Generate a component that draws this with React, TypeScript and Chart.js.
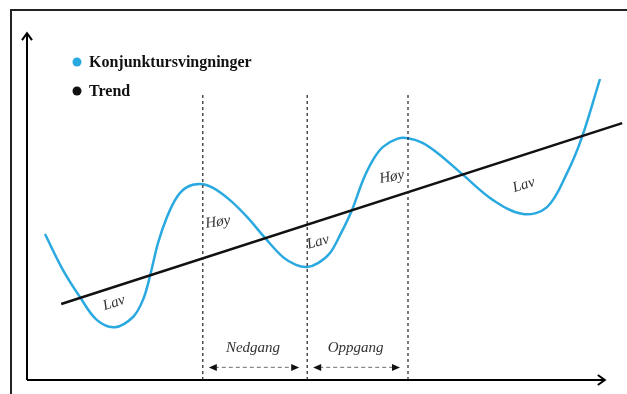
import React, { useEffect, useRef } from "react";
import { Chart, registerables } from "chart.js";

Chart.register(...registerables);

// Business cycle around a rising trend (time on x, activity on y, 0-100 units)
const cycleX = [3.0, 6.0, 8.83, 11.67, 14.67, 17.67, 19.33, 20.5, 21.83, 23.33, 25.0, 26.67, 28.83, 31.0, 33.83, 36.67, 39.67, 42.67, 44.83, 46.67, 48.5, 50.5, 52.17, 54.17, 56.0, 57.67, 59.33, 61.67, 63.5, 66.0, 68.83, 72.67, 77.67, 82.67, 86.67, 90.0, 92.5, 95.5];
const cycleY = [41.7, 31.4, 23.7, 17.1, 15.1, 18.0, 22.9, 29.7, 39.1, 46.6, 52.3, 55.1, 56.0, 54.9, 51.4, 46.6, 40.6, 35.1, 32.9, 32.3, 33.4, 36.3, 41.4, 48.6, 57.1, 62.9, 66.6, 68.9, 69.1, 67.7, 64.3, 58.6, 51.4, 47.4, 49.4, 59.1, 69.4, 86.0];

const trendX = [5.7, 99.2];
const trendY = [21.7, 73.4];

// Turning points marked with dashed verticals
const phaseX = [29.3, 46.7, 63.5];
const phaseTop = 81.4;

const seriesLabels = ["Konjunktursvingninger", "Trend"];
const seriesColors = ["#2aa9e0", "#111111"];

// Peak/trough annotations: text, x, y, rotation (deg)
const pointTexts = ["Lav", "Høy", "Lav", "Høy", "Lav"];
const pointTextX = [14.5, 31.8, 48.5, 60.8, 82.8];
const pointTextY = [22.0, 45.1, 39.4, 58.0, 55.7];
const pointTextAngle = [-18, -8, -15, -10, -18];

// Phase names between the turning points
const phaseNames = ["Nedgang", "Oppgang"];

const xAxisEnd = 96.3;
const yAxisEnd = 99.1;

const toPoints = (xs: number[], ys: number[]) => xs.map((x, i) => ({ x, y: ys[i] }));

const overlay = {
  id: "overlay",
  beforeDatasetsDraw(chart: any) {
    const { ctx, scales } = chart;
    const sx = scales.x;
    const sy = scales.y;
    ctx.save();
    // outer frame (top and left edges)
    ctx.strokeStyle = "#222";
    ctx.lineWidth = 2;
    ctx.beginPath();
    ctx.moveTo(627, 10);
    ctx.lineTo(11, 10);
    ctx.lineTo(11, 394);
    ctx.stroke();

    // axes with open arrow heads
    const ox = sx.getPixelForValue(0);
    const oy = sy.getPixelForValue(0);
    const xe = sx.getPixelForValue(xAxisEnd);
    const ye = sy.getPixelForValue(yAxisEnd);
    ctx.strokeStyle = "#000";
    ctx.lineWidth = 2;
    ctx.beginPath();
    ctx.moveTo(ox, oy);
    ctx.lineTo(xe, oy);
    ctx.moveTo(ox, oy);
    ctx.lineTo(ox, ye);
    ctx.stroke();
    ctx.beginPath();
    ctx.moveTo(xe - 7, oy - 5);
    ctx.lineTo(xe, oy);
    ctx.lineTo(xe - 7, oy + 5);
    ctx.moveTo(ox - 5, ye + 7);
    ctx.lineTo(ox, ye);
    ctx.lineTo(ox + 5, ye + 7);
    ctx.stroke();
    ctx.restore();
  },
  afterDatasetsDraw(chart: any) {
    const { ctx, scales } = chart;
    const sx = scales.x;
    const sy = scales.y;
    ctx.save();

    // legend
    const lx = 77;
    const ly = [62, 91];
    seriesLabels.forEach((label, i) => {
      ctx.fillStyle = seriesColors[i];
      ctx.beginPath();
      ctx.arc(lx, ly[i], 4.5, 0, Math.PI * 2);
      ctx.fill();
      ctx.fillStyle = "#111";
      ctx.font = "bold 16px 'Liberation Serif'";
      ctx.textAlign = "left";
      ctx.textBaseline = "middle";
      ctx.fillText(label, lx + 12, ly[i] + 0.5);
    });

    // peak / trough labels
    ctx.fillStyle = "#333";
    ctx.font = "italic 15px 'Liberation Serif'";
    ctx.textAlign = "center";
    ctx.textBaseline = "middle";
    pointTexts.forEach((t, i) => {
      const px = sx.getPixelForValue(pointTextX[i]);
      const py = sy.getPixelForValue(pointTextY[i]);
      ctx.save();
      ctx.translate(px, py);
      ctx.rotate((pointTextAngle[i] * Math.PI) / 180);
      ctx.fillText(t, 0, 0);
      ctx.restore();
    });

    // phase names with dashed double arrows
    const textY = sy.getPixelForValue(9.1);
    const arrowY = sy.getPixelForValue(3.6);
    phaseNames.forEach((name, i) => {
      const a = sx.getPixelForValue(phaseX[i]);
      const b = sx.getPixelForValue(phaseX[i + 1]);
      ctx.fillStyle = "#333";
      ctx.font = "italic 15px 'Liberation Serif'";
      ctx.fillText(name, (a + b) / 2 - 2, textY);

      const x1 = a + 6;
      const x2 = b - 8;
      ctx.strokeStyle = "#888";
      ctx.lineWidth = 1.2;
      ctx.setLineDash([4, 3]);
      ctx.beginPath();
      ctx.moveTo(x1 + 6, arrowY);
      ctx.lineTo(x2 - 6, arrowY);
      ctx.stroke();
      ctx.setLineDash([]);
      ctx.fillStyle = "#111";
      ctx.beginPath();
      ctx.moveTo(x1, arrowY);
      ctx.lineTo(x1 + 8, arrowY - 3.5);
      ctx.lineTo(x1 + 8, arrowY + 3.5);
      ctx.closePath();
      ctx.fill();
      ctx.beginPath();
      ctx.moveTo(x2, arrowY);
      ctx.lineTo(x2 - 8, arrowY - 3.5);
      ctx.lineTo(x2 - 8, arrowY + 3.5);
      ctx.closePath();
      ctx.fill();
    });
    ctx.restore();
  },
};

export default function App() {
  const canvasRef = useRef<HTMLCanvasElement | null>(null);

  useEffect(() => {
    document.body.style.margin = "0";
    const canvas = canvasRef.current;
    if (!canvas) return;

    const phaseSets = phaseX.map((x) => ({
      label: "fase",
      data: [
        { x, y: 0 },
        { x, y: phaseTop },
      ],
      borderColor: "#222",
      borderWidth: 1.2,
      borderDash: [3, 3],
      pointRadius: 0,
      fill: false,
      clip: false as any,
    }));

    const chart = new Chart(canvas, {
      type: "line",
      data: {
        datasets: [
          ...phaseSets,
          {
            label: seriesLabels[1],
            data: toPoints(trendX, trendY),
            borderColor: seriesColors[1],
            borderWidth: 2.5,
            pointRadius: 0,
            fill: false,
            clip: false as any,
          },
          {
            label: seriesLabels[0],
            data: toPoints(cycleX, cycleY),
            borderColor: seriesColors[0],
            borderWidth: 2.5,
            pointRadius: 0,
            fill: false,
            tension: 0.35,
            clip: false as any,
          },
        ],
      },
      options: {
        animation: false,
        responsive: false,
        devicePixelRatio: 1,
        layout: { padding: { left: 27, right: 0, top: 30, bottom: 14 } },
        plugins: { legend: { display: false }, tooltip: { enabled: false } },
        scales: {
          x: { type: "linear", min: 0, max: 100, display: false },
          y: { type: "linear", min: 0, max: 100, display: false },
        },
      },
      plugins: [overlay],
    });

    return () => chart.destroy();
  }, []);

  return (
    <div style={{ position: "fixed", left: 0, top: 0, width: 627, height: 394, background: "#fff" }}>
      <canvas ref={canvasRef} width={627} height={394} />
    </div>
  );
}
